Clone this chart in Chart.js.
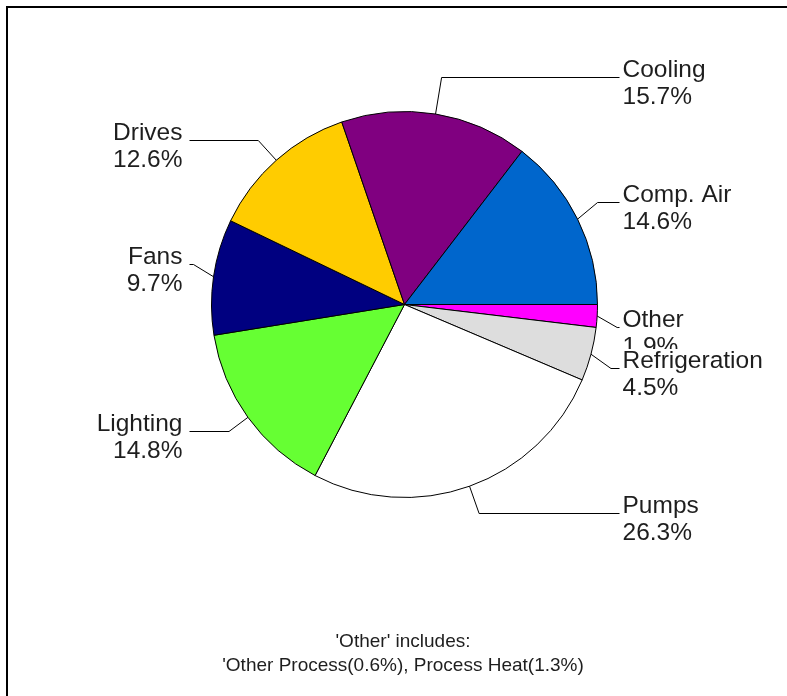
<!DOCTYPE html>
<html>
<head>
<meta charset="utf-8">
<script src="https://cdn.jsdelivr.net/npm/chart.js@4.4.0/dist/chart.umd.min.js"></script>
<style>
  html, body { margin: 0; padding: 0; background: #fff; }
  #chart { display: block; }
</style>
</head>
<body>
<canvas id="chart" width="787" height="696"></canvas>
<script>
// slices listed clockwise starting at 3 o'clock
const categories = ['Other', 'Refrigeration', 'Pumps', 'Lighting', 'Fans', 'Drives', 'Cooling', 'Comp. Air'];
const shares = [1.9, 4.5, 26.3, 14.8, 9.7, 12.6, 15.7, 14.6];
const sliceColors = ['#ff00ff', '#dddddd', '#ffffff', '#66ff33', '#000080', '#ffcc00', '#800080', '#0066cc'];
const noteLines = ["'Other' includes:", "'Other Process(0.6%), Process Heat(1.3%)"];

// label layout: baseline of the first text line for each slice label
const labelBaseline = [327, 368, 513, 431, 264, 140, 77, 202];

const pieLabels = {
    id: 'pieLabels',
    beforeDraw(chart) {
        const ctx = chart.ctx;
        ctx.save();
        ctx.fillStyle = '#fff';
        ctx.fillRect(0, 0, chart.width, chart.height);
        // frame (only left and top edges show in the window)
        ctx.fillStyle = '#000';
        ctx.fillRect(6, 6, chart.width, 2);
        ctx.fillRect(6, 6, 2, chart.height);
        ctx.restore();
    },
    afterDraw(chart) {
        const ctx = chart.ctx;
        const arcs = chart.getDatasetMeta(0).data;
        ctx.save();
        ctx.font = '24.5px "Liberation Sans", Arial, sans-serif';
        ctx.textBaseline = 'alphabetic';
        ctx.lineWidth = 1;
        ctx.strokeStyle = '#000';

        arcs.forEach((arc, i) => {
            const mid = (arc.startAngle + arc.endAngle) / 2;
            const R = arc.outerRadius;
            const ax = arc.x + Math.cos(mid) * R;
            const ay = arc.y + Math.sin(mid) * R;
            const y = labelBaseline[i];
            const right = Math.cos(mid) > 0;
            const endX = right ? arc.x + R + 22 : arc.x - R - 22;

            // elbow where the slice's ray meets the label row, kept near the edge
            const s = Math.sin(mid);
            let ex = Math.abs(s) > 1e-6 ? arc.x + Math.cos(mid) * ((y - arc.y) / s) : ax + 20;
            ex = Math.max(ax - 20, Math.min(ax + 20, ex));
            ex = right ? Math.min(ex, endX) : Math.max(ex, endX);

            ctx.beginPath();
            ctx.moveTo(ax, ay);
            ctx.lineTo(ex, y + 0.5);
            ctx.lineTo(endX, y + 0.5);
            ctx.stroke();

            const lines = [categories[i], shares[i].toFixed(1) + '%'];
            const w = Math.max(...lines.map(t => ctx.measureText(t).width));
            const tx = right ? endX + 3 : endX - 7;
            const boxX = right ? tx - 1 : tx - w - 1;
            ctx.fillStyle = '#fff';
            ctx.fillRect(boxX, y - 19, w + 2, 27 + 25);
            ctx.fillStyle = '#1e1e1e';
            ctx.textAlign = right ? 'left' : 'right';
            lines.forEach((t, k) => ctx.fillText(t, tx, y + k * 27));
        });

        // footnote under the pie
        ctx.font = '19px "Liberation Sans", Arial, sans-serif';
        ctx.textAlign = 'center';
        ctx.fillStyle = '#1e1e1e';
        const cx = arcs[0].x - 1.5;
        noteLines.forEach((t, k) => ctx.fillText(t, cx, 647 + k * 24));
        ctx.restore();
    }
};

new Chart(document.getElementById('chart'), {
    type: 'pie',
    data: {
        labels: categories,
        datasets: [{
            data: shares,
            backgroundColor: sliceColors,
            borderColor: '#000',
            borderWidth: 1
        }]
    },
    options: {
        responsive: false,
        animation: false,
        events: [],
        rotation: 90,
        layout: {
            padding: { left: 211, right: 189, top: 111, bottom: 198 }
        },
        plugins: {
            legend: { display: false },
            tooltip: { enabled: false },
            title: { display: false }
        }
    },
    plugins: [pieLabels]
});
</script>
</body>
</html>
